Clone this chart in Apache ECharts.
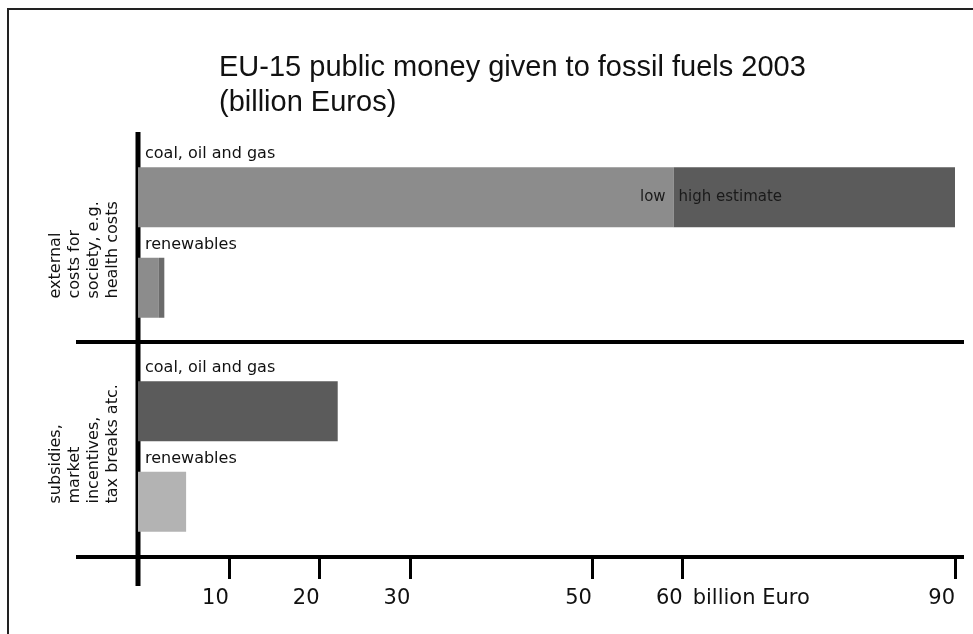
<!DOCTYPE html>
<html>
<head>
<meta charset="utf-8">
<script src="https://cdn.jsdelivr.net/npm/echarts@6/dist/echarts.min.js"></script>
<style>
  html, body { margin: 0; padding: 0; background: #fff; }
  #chart { width: 973px; height: 634px; }
</style>
</head>
<body>
<div id="chart"></div>
<script>
// values (billion Euro)
const categories = ["coal, oil and gas", "renewables"];
const externalLow = [59, 2.3];
const externalHigh = [90, 2.9];
const subsidies = [22, 5.3];
const tickValues = [10, 20, 30, 50, 60, 90];

const lowColors = ["#8c8c8c", "#8c8c8c"];
const highColors = ["#5b5b5b", "#6b6b6b"];
const subsidyColors = ["#5b5b5b", "#b3b3b3"];

const FONT = "DejaVu Sans";

const chart = echarts.init(document.getElementById("chart"));

const catAxis = (grid, name, pad) => ({
  type: "category",
  gridIndex: grid,
  data: categories,
  inverse: true,
  axisLine: { show: false },
  axisTick: { show: false },
  axisLabel: {
    inside: true,
    margin: 7,
    verticalAlign: "bottom",
    padding: [0, 0, 35, 0],
    color: "#111",
    fontFamily: FONT,
    fontSize: 16,
  },
  name: name,
  nameLocation: "middle",
  nameRotate: 90,
  nameGap: 54,
  nameTextStyle: {
    align: "center",
    verticalAlign: "middle",
    padding: pad,
    rich: {
      l: { width: 120, align: "left", fontFamily: FONT, fontSize: 16, lineHeight: 19, color: "#111" },
    },
  },
});

const options = {
  animation: false,
  title: {
    text: "EU-15 public money given to fossil fuels 2003\n(billion Euros)",
    left: 214,
    top: 45,
    textStyle: {
      fontFamily: "Liberation Sans",
      fontWeight: "normal",
      fontSize: 29,
      lineHeight: 35,
      color: "#111",
    },
  },
  grid: [
    { left: 138, right: 18, top: 152, height: 181 },
    { left: 138, right: 18, top: 366, height: 181 },
  ],
  xAxis: [
    { type: "value", gridIndex: 0, min: 0, max: 90, show: false },
    {
      type: "value",
      gridIndex: 1,
      min: 0,
      max: 90,
      position: "bottom",
      offset: 10,
      splitLine: { show: false },
      axisLine: { show: false },
      axisTick: {
        show: true,
        length: 22,
        customValues: tickValues,
        lineStyle: { color: "#000", width: 3 },
      },
      axisLabel: {
        customValues: tickValues,
        align: "right",
        margin: 31,
        color: "#111",
        fontFamily: FONT,
        fontSize: 21,
      },
    },
    {
      type: "value",
      gridIndex: 1,
      min: 0,
      max: 90,
      position: "bottom",
      offset: 10,
      splitLine: { show: false },
      axisLine: { show: false },
      axisTick: { show: false },
      axisLabel: {
        customValues: [60],
        formatter: () => "billion Euro",
        align: "left",
        padding: [0, 0, 0, 10],
        margin: 31,
        color: "#111",
        fontFamily: FONT,
        fontSize: 21,
      },
    },
  ],
  yAxis: [
    catAxis(0, "{l|external}\n{l|costs for}\n{l|society, e.g.}\n{l|health costs}", [0, 0, 0, 8]),
    catAxis(1, "{l|subsidies,}\n{l|market}\n{l|incentives,}\n{l|tax breaks atc.}", [0, 0, 0, 26]),
  ],
  series: [
    {
      name: "low",
      type: "bar",
      xAxisIndex: 0,
      yAxisIndex: 0,
      stack: "external",
      barWidth: 60,
      data: externalLow.map((v, i) => ({
        value: v,
        itemStyle: { color: lowColors[i] },
        label: {
          show: i === 0,
          position: "insideRight",
          distance: 8,
          formatter: "low",
          color: "#1a1a1a",
          fontFamily: FONT,
          fontSize: 15,
        },
      })),
    },
    {
      name: "high",
      type: "bar",
      xAxisIndex: 0,
      yAxisIndex: 0,
      stack: "external",
      barWidth: 60,
      data: externalHigh.map((v, i) => ({
        value: v - externalLow[i],
        itemStyle: { color: highColors[i] },
        label: {
          show: i === 0,
          position: "insideLeft",
          distance: 5,
          formatter: "high estimate",
          color: "#1a1a1a",
          fontFamily: FONT,
          fontSize: 15,
        },
      })),
    },
    {
      name: "subsidies",
      type: "bar",
      xAxisIndex: 1,
      yAxisIndex: 1,
      barWidth: 60,
      data: subsidies.map((v, i) => ({ value: v, itemStyle: { color: subsidyColors[i] } })),
    },
  ],
  graphic: [
    // frame
    { type: "polyline", shape: { points: [[8, 640], [8, 9], [980, 9]] }, style: { stroke: "#222", lineWidth: 2, fill: null } },
    // vertical axis
    { type: "line", shape: { x1: 138, y1: 132, x2: 138, y2: 586 }, style: { stroke: "#000", lineWidth: 5 } },
    // group divider and bottom axis line
    { type: "line", shape: { x1: 76, y1: 342, x2: 964, y2: 342 }, style: { stroke: "#000", lineWidth: 4 } },
    { type: "line", shape: { x1: 76, y1: 557, x2: 964, y2: 557 }, style: { stroke: "#000", lineWidth: 4 } },
  ],
};

chart.setOption(options);
</script>
</body>
</html>
